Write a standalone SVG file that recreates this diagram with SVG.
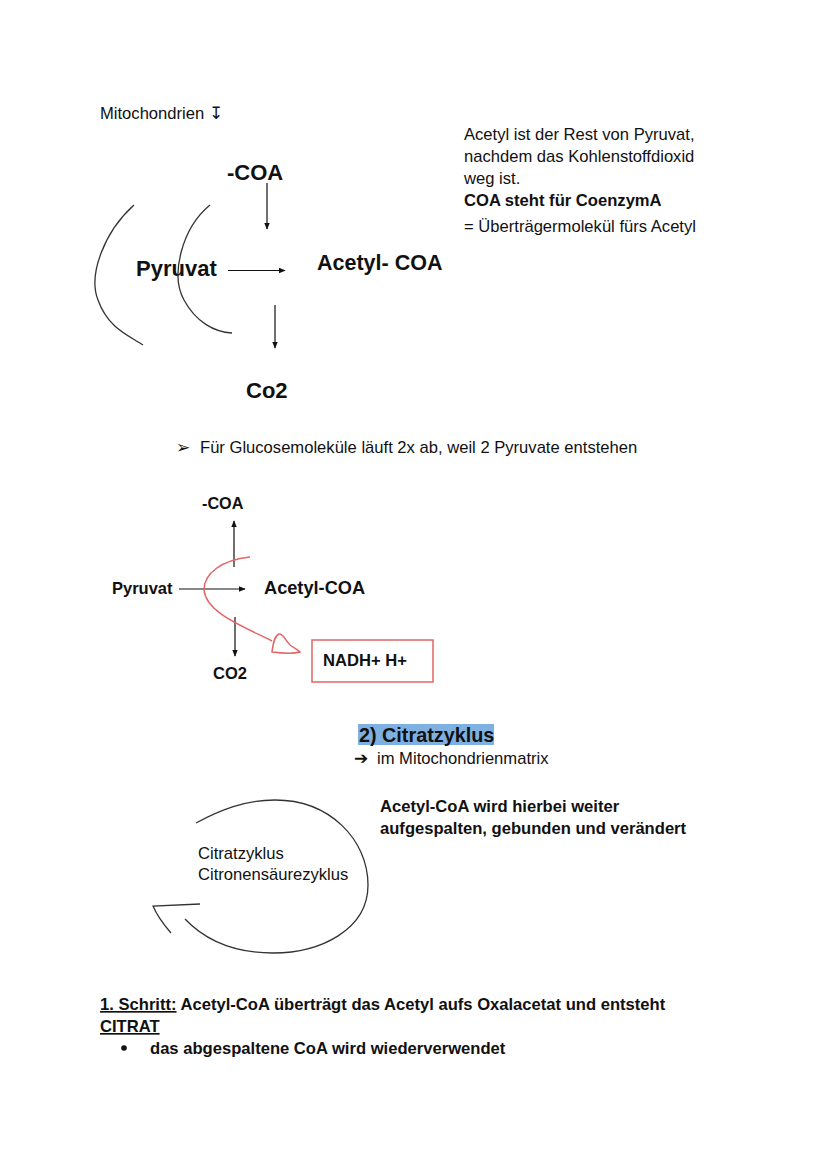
<svg xmlns="http://www.w3.org/2000/svg" width="828" height="1171" viewBox="0 0 828 1171">
<style>
text{font-family:"Liberation Sans",Arial,sans-serif;fill:#111}
.n{font-size:16.6px}
.b{font-weight:bold}
.ln{stroke:#111;stroke-width:1.2;fill:none}
.sk{stroke:#333;stroke-width:1.3;fill:none}
.red{stroke:#e06666;stroke-width:1.5;fill:none}
</style>
<defs>
<marker id="ah" viewBox="0 0 10 10" refX="9" refY="5" markerWidth="6" markerHeight="6" orient="auto">
<path d="M0,1 L10,5 L0,9 z" fill="#111"/>
</marker>
</defs>
<rect width="828" height="1171" fill="#fff"/>

<g id="title">
<text class="n" x="100" y="119">Mitochondrien ↧</text>
</g>

<g id="note">
<text class="n" x="464" y="140">Acetyl ist der Rest von Pyruvat,</text>
<text class="n" x="464" y="162">nachdem das Kohlenstoffdioxid</text>
<text class="n" x="464" y="184">weg ist.</text>
<text class="n b" x="464" y="206">COA steht für CoenzymA</text>
<text class="n" x="464" y="232">= Überträgermolekül fürs Acetyl</text>
</g>

<g id="d1-coa"><text class="b" font-size="22" x="227" y="180">-COA</text></g>
<g id="d1-pyruvat"><text class="b" font-size="22" x="136" y="276">Pyruvat</text></g>
<g id="d1-acetyl"><text class="b" font-size="21.5" x="317" y="270">Acetyl- COA</text></g>
<g id="d1-co2"><text class="b" font-size="22" x="246" y="398">Co2</text></g>
<g id="d1-arcs">
<path class="sk" d="M134,205 C104,232 88,275 98,300 C108,328 128,335 143,345"/>
<path class="sk" d="M210,205 C182,228 170,275 184,300 C196,322 214,332 232,333"/>
</g>

<g id="connectors">
<line class="ln" x1="267" y1="183" x2="267" y2="229" marker-end="url(#ah)"/>
<line class="ln" x1="228" y1="270.5" x2="285" y2="270.5" marker-end="url(#ah)"/>
<line class="ln" x1="275" y1="305" x2="275" y2="348" marker-end="url(#ah)"/>
<line class="ln" x1="234" y1="567" x2="234" y2="521" marker-end="url(#ah)"/>
<line class="ln" x1="179" y1="589" x2="245" y2="589" marker-end="url(#ah)"/>
<line class="ln" x1="235" y1="617" x2="235" y2="656" marker-end="url(#ah)"/>
<path class="red" d="M250,557 C222,560 204,573 204,590 C206,612 240,625 272,641"/>
<path class="red" d="M272,652 C273,645 274,636 279,634 C283,633 285,640 290,645 C294,648 298,650 300,652 C292,654 280,653 272,652 Z"/>
</g>

<g id="glucose-note">
<text class="n" x="176" y="453">➢</text>
<text class="n" x="200" y="453">Für Glucosemoleküle läuft 2x ab, weil 2 Pyruvate entstehen</text>
</g>

<g id="d2-coa"><text class="b" font-size="16.2" x="202" y="509">-COA</text></g>
<g id="d2-pyruvat"><text class="b" font-size="16.5" x="112" y="594">Pyruvat</text></g>
<g id="d2-acetyl"><text class="b" font-size="18.2" x="264" y="594">Acetyl-COA</text></g>
<g id="d2-co2"><text class="b" font-size="16.5" x="213" y="679">CO2</text></g>
<g id="d2-nadh">
<rect x="312" y="640" width="121" height="42" fill="none" stroke="#e06666" stroke-width="1.5"/>
<text class="b" font-size="16.6" x="323" y="666">NADH+ H+</text>
</g>

<g id="section2">
<rect x="358" y="724" width="136" height="21" fill="#7eb0e2"/>
<text class="b" font-size="19.8" x="359" y="742">2) Citratzyklus</text>
<text class="n" x="354" y="764">➔</text>
<text class="n" x="377" y="764">im Mitochondrienmatrix</text>
<text class="n b" x="380" y="812">Acetyl-CoA wird hierbei weiter</text>
<text class="n b" x="380" y="834">aufgespalten, gebunden und verändert</text>
</g>

<g id="cycle">
<path class="sk" d="M196,823 C220,810 245,800 275,800 C330,800 368,840 368,885 C368,930 320,953 273,953 C235,953 205,940 185,919"/>
<path class="sk" d="M200,904 L153,906 C158,918 165,926 171,933"/>
<text class="n" x="198" y="859">Citratzyklus</text>
<text class="n" x="198" y="880">Citronensäurezyklus</text>
</g>

<g id="step1">
<text class="n b" x="100" y="1010"><tspan text-decoration="underline">1. Schritt:</tspan> Acetyl-CoA überträgt das Acetyl aufs Oxalacetat und entsteht</text>
<text class="n b" x="100" y="1032" text-decoration="underline">CITRAT</text>
<circle cx="124" cy="1048" r="2.8" fill="#111"/>
<text class="n b" x="150" y="1054">das abgespaltene CoA wird wiederverwendet</text>
</g>
</svg>
